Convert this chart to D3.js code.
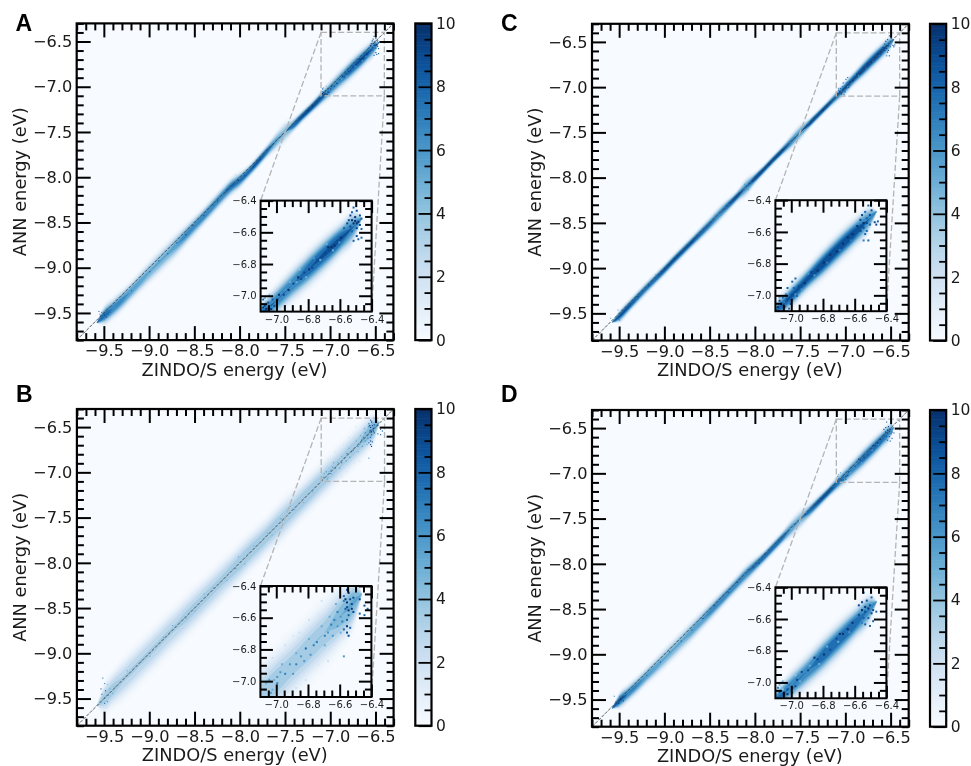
<!DOCTYPE html>
<html><head><meta charset="utf-8">
<script src="https://cdn.jsdelivr.net/npm/d3@7"></script>
<style>html,body{margin:0;padding:0;background:#fff}svg{display:block;filter:blur(0.4px)}text{font-family:"DejaVu Sans",sans-serif;fill:#1a1a1a}</style>
</head><body><svg id="c" width="971" height="766"></svg>
<script>
// band knots along the ZINDO/S energy axis
const energy=[-9.58,-9.5,-9.4,-9.3,-9.2,-9.1,-9.0,-8.9,-8.8,-8.7,-8.6,-8.5,-8.4,-8.3,-8.2,-8.1,-8.0,-7.9,-7.8,-7.7,-7.6,-7.5,-7.4,-7.3,-7.2,-7.1,-7.0,-6.9,-6.8,-6.7,-6.6,-6.5,-6.46];
// ANN minus ZINDO offset of the ridge, spread of the band, peak count
const offsetA=[-.03,-.03,-.05,-.06,-.06,-.055,-.05,-.05,-.05,-.05,-.045,-.04,-.035,-.025,-.015,-.01,-.035,-.04,-.03,-.015,-.005,-.005,-.02,-.02,-.025,-.025,-.03,-.03,-.035,-.04,-.045,-.05,-.05];
const spreadA=[.012,.03,.035,.035,.033,.035,.038,.04,.04,.04,.035,.033,.03,.03,.03,.03,.028,.022,.022,.022,.03,.035,.022,.02,.02,.024,.03,.033,.035,.035,.032,.026,.02];
const peakA=[0,8.5,7.5,7,6.5,6,5.5,5.5,5.5,6,7,7,7.5,7.5,7.5,8,8,8.5,9,8.5,6,5,8.5,9.5,9.8,9,7.5,7.5,8.5,9,9,7,0];
const offsetB=[0,0,.005,0,0,0,0,0,.005,0,0,0,0,0,0,0,0,.005,0,0,0,0,0,0,0,0,0,0,0,0,.005,.01,.01];
const spreadB=[.03,.05,.06,.068,.07,.07,.07,.07,.07,.07,.07,.07,.068,.068,.068,.066,.065,.064,.064,.062,.066,.068,.064,.062,.062,.062,.062,.062,.062,.062,.058,.042,.02];
const peakB=[0,4,4,3.6,3.6,3.6,3.6,3.6,3.6,3.6,3.8,3.8,3.8,3.8,3.8,4,4.2,4.2,4.2,4.2,4.2,4.2,4.2,4.4,4.4,4.2,4.2,4,4.2,4.2,5,5.5,0];
const offsetC=[-.02,-.035,-.03,-.025,-.02,-.02,-.02,-.015,-.015,-.015,-.015,-.015,-.01,-.01,-.01,-.01,-.01,-.01,-.005,-.005,-.005,0,-.005,-.005,-.005,-.005,-.005,0,0,0,-.005,-.01,-.01];
const spreadC=[.01,.02,.022,.022,.022,.02,.02,.02,.02,.02,.022,.024,.026,.022,.019,.03,.019,.016,.016,.017,.024,.027,.017,.016,.016,.021,.024,.024,.028,.029,.028,.022,.012];
const peakC=[0,9,9,8.5,8,8.8,9.2,9.2,9.2,9.2,8.8,8,7.5,8.8,9.5,7,9.5,9.8,9.8,9.5,7.5,6.5,9.5,9.8,9.8,8,9,9.2,9.8,9.8,9.5,7,0];
const offsetD=[-.02,-.015,-.03,-.04,-.04,-.045,-.045,-.045,-.045,-.045,-.04,-.035,-.03,-.025,-.02,-.015,-.02,-.025,-.02,-.015,-.01,-.01,-.02,-.02,-.02,-.02,-.025,-.03,-.03,-.03,-.03,-.03,-.03];
const spreadD=[.012,.026,.03,.03,.03,.032,.035,.035,.035,.035,.033,.032,.03,.028,.028,.03,.026,.022,.022,.022,.03,.033,.024,.022,.02,.024,.03,.033,.035,.035,.032,.026,.02];
const peakD=[0,9,7.5,7,6.5,6,5.5,5.5,5.5,6,6.5,7,7.5,7.5,7.5,7.5,8,8.5,8.5,8.5,6.5,5.5,8,9,9.5,8.5,7.5,7.5,8.5,8.5,8.5,7,0];
// individual histogram cells picked out of the picture: ZINDO/S, ANN, count
const cellsA=[[-6.52,-6.45,8],[-6.5,-6.47,9],[-6.53,-6.48,8],[-6.48,-6.5,9],[-6.51,-6.51,10],[-6.54,-6.5,9],[-6.47,-6.52,8],[-6.53,-6.53,10],[-6.51,-6.535,10],[-6.49,-6.54,10],[-6.55,-6.53,9],[-6.52,-6.55,10],[-6.5,-6.55,10],[-6.48,-6.56,9],[-6.56,-6.55,9],[-6.54,-6.57,9],[-6.5,-6.58,9],[-6.47,-6.585,8],[-6.53,-6.6,8],[-6.58,-6.58,8],[-6.5,-6.63,9],[-6.49,-6.65,8],[-6.47,-6.64,8],[-6.52,-6.66,8],
[-6.6,-6.64,10],[-6.62,-6.66,9],[-6.64,-6.69,10],[-6.66,-6.7,10],[-6.68,-6.7,10],[-6.67,-6.72,9],[-6.7,-6.74,9],[-6.72,-6.76,9],[-6.75,-6.78,9],[-6.78,-6.83,9],[-6.8,-6.84,10],[-6.83,-6.86,9],[-6.85,-6.9,9],[-6.87,-6.89,10],[-6.9,-6.93,9],[-6.93,-6.97,10],[-6.96,-7.0,9],
[-6.61,-6.67,6],[-6.65,-6.72,5],[-6.69,-6.68,5],[-6.73,-6.78,5],[-6.77,-6.77,6],[-6.82,-6.89,5],[-6.88,-6.92,5],[-6.92,-6.92,5],[-6.86,-6.84,4],[-6.95,-6.97,6],[-6.99,-7.05,6],
[-7.08,-7.07,9],[-7.06,-7.05,9],[-7.04,-7.09,10],[-7.09,-7.03,8],[-7.02,-7.07,9],[-7.0,-7.03,9],[-7.03,-7.03,8],[-7.07,-7.09,10],[-6.99,-7.0,10],[-7.09,-7.08,10],[-7.08,-7.02,5],[-7.05,-7.0,4],[-7.07,-7.05,5],[-7.05,-7.07,6],[-7.09,-7.06,6],
[-9.56,-9.49,7],[-9.54,-9.54,8],[-9.52,-9.56,8],[-9.5,-9.53,9],[-9.53,-9.5,7],[-9.48,-9.55,9],[-9.46,-9.52,9],[-9.5,-9.58,6],[-9.44,-9.5,8],[-9.55,-9.52,6],
[-9.2,-9.26,8],[-9,-9.05,8],[-8.8,-8.85,8],[-8.6,-8.64,9],[-8.4,-8.43,9],[-8.15,-8.15,9],[-8.08,-8.09,9],[-8.02,-8.04,10],[-7.98,-8.03,8],[-7.85,-7.89,9],[-7.6,-7.6,6],[-7.55,-7.62,3],[-7.5,-7.43,3],[-7.45,-7.47,7],[-7.25,-7.27,10],[-7.2,-7.22,10],[-7.15,-7.17,9],[-7.05,-7.03,4],[-8.05,-7.98,3],[-8.9,-8.93,8],[-8.7,-8.73,8],[-8.52,-8.54,9],[-8.3,-8.31,9],[-8.25,-8.27,9],[-7.95,-7.99,9],[-7.78,-7.81,9],[-7.7,-7.71,8]];
const cellsB=[[-6.56,-6.43,9],[-6.55,-6.45,10],[-6.58,-6.47,8],[-6.57,-6.49,10],[-6.54,-6.49,9],[-6.52,-6.48,9],[-6.58,-6.5,7],[-6.56,-6.51,10],[-6.53,-6.52,9],[-6.48,-6.49,9],[-6.45,-6.53,9],[-6.56,-6.54,9],[-6.53,-6.55,10],[-6.55,-6.56,10],[-6.52,-6.57,9],[-6.57,-6.55,8],[-6.48,-6.58,8],[-6.43,-6.55,8],[-6.45,-6.59,8],[-6.55,-6.59,8],[-6.56,-6.62,8],[-6.59,-6.63,7],[-6.56,-6.66,10],[-6.54,-6.67,8],[-6.58,-6.68,8],[-6.56,-6.7,9],[-6.55,-6.72,9],[-6.58,-6.85,6],
[-6.62,-6.57,7],[-6.64,-6.62,7],[-6.66,-6.65,7],[-6.62,-6.66,6],[-6.68,-6.7,6],[-6.7,-6.72,7],[-6.65,-6.72,6],[-6.75,-6.76,7],[-6.77,-6.78,7],[-6.82,-6.8,8],[-6.79,-6.84,6],[-6.85,-6.85,6],[-6.88,-6.9,7],[-6.92,-6.9,6],[-6.95,-6.96,7],[-6.98,-6.95,6],[-7.0,-7.02,7],[-7.05,-7.0,6],[-7.08,-7.06,6],[-7.03,-7.06,5],
[-6.6,-6.6,6],[-6.63,-6.52,5],[-6.67,-6.6,5],[-6.6,-6.7,5],[-6.72,-6.66,5],[-6.7,-6.78,5],[-6.8,-6.74,5],[-6.83,-6.88,6],[-6.88,-6.83,5],[-6.9,-6.96,6],[-6.97,-6.9,5],[-7.0,-6.98,6],[-7.02,-7.0,5],[-7.07,-7.02,5],[-7.04,-7.08,6],[-6.86,-6.7,2],[-6.8,-6.62,2],[-6.95,-6.78,2],[-6.9,-6.72,1.5],[-6.68,-6.88,2],[-6.74,-6.9,1.5],[-6.82,-7.0,2],[-6.88,-7.05,2],[-6.74,-6.58,1.5],[-6.72,-6.5,2],[-7.03,-6.86,2],
[-9.52,-9.28,7],[-9.5,-9.34,6],[-9.54,-9.4,8],[-9.49,-9.42,8],[-9.53,-9.46,7],[-9.5,-9.5,7],[-9.46,-9.47,6],[-9.47,-9.54,6],[-9.5,-9.56,7],[-9.44,-9.4,5],[-9.41,-9.45,5],[-9.38,-9.38,5],[-9.47,-9.35,4],
[-9.1,-9.1,5],[-8.85,-8.83,5],[-8.6,-8.62,5],[-8.3,-8.28,5],[-8.05,-8.07,6],[-8.02,-7.94,5],[-7.95,-8.02,5],[-7.7,-7.68,5],[-7.55,-7.52,6],[-7.4,-7.42,5],[-7.2,-7.22,5],[-9.25,-9.2,5],[-9.0,-9.04,5],[-8.75,-8.7,5],[-8.5,-8.54,5],[-8.4,-8.35,5],[-8.15,-8.2,5],[-7.85,-7.82,5],[-7.65,-7.7,5],[-7.45,-7.38,5],[-7.3,-7.34,5],[-7.1,-7.06,5]];
const cellsC=[[-6.52,-6.44,8],[-6.5,-6.47,9],[-6.54,-6.48,8],[-6.51,-6.5,9],[-6.56,-6.5,9],[-6.53,-6.52,8],[-6.48,-6.545,9],[-6.46,-6.54,8],[-6.47,-6.56,9],[-6.55,-6.55,10],[-6.53,-6.55,9],[-6.57,-6.53,9],[-6.51,-6.56,8],[-6.55,-6.58,9],[-6.59,-6.57,10],[-6.57,-6.6,9],[-6.54,-6.62,8],[-6.52,-6.66,8],[-6.55,-6.66,7],[-6.53,-6.6,8],
[-6.62,-6.62,10],[-6.65,-6.64,10],[-6.68,-6.68,10],[-6.72,-6.73,10],[-6.76,-6.75,10],[-6.8,-6.8,10],[-6.84,-6.85,10],[-6.88,-6.86,9],[-6.92,-6.93,10],[-6.96,-6.95,9],[-6.99,-6.96,8],[-7.0,-6.92,8],[-7.03,-6.96,8],[-6.98,-6.9,8],
[-6.63,-6.66,7],[-6.7,-6.72,7],[-6.78,-6.8,7],[-6.86,-6.88,6],[-6.94,-6.97,6],[-6.98,-7.0,6],[-6.9,-6.87,6],
[-7.09,-7.08,10],[-7.07,-7.06,10],[-7.05,-7.08,10],[-7.08,-7.04,9],[-7.03,-7.03,9],[-7.01,-7.06,9],[-7.06,-7.02,8],[-7.0,-7.0,9],[-7.04,-7.0,7],[-6.97,-7.01,8],[-7.08,-7.02,6],[-7.05,-7.05,7],[-7.02,-7.09,8],
[-9.6,-9.56,5],[-9.52,-9.47,5],[-9.5,-9.58,7],[-9.48,-9.52,9],[-9.3,-9.32,9],[-9.1,-9.08,6],[-8.55,-8.58,7],[-8.45,-8.42,5],[-8.38,-8.42,6],[-8.32,-8.34,7],[-8.12,-8.08,6],[-8.08,-8.14,6],[-8.05,-8.06,7],[-8.1,-8.1,8],[-7.55,-7.52,5],[-7.5,-7.45,4],[-7.47,-7.5,6],[-7.52,-7.57,4],[-7.42,-7.4,5],[-9.18,-9.2,9],[-8.7,-8.72,9],[-8.9,-8.91,9],[-7.85,-7.86,10],[-7.7,-7.7,10],[-7.25,-7.26,10]];
const cellsD=[[-6.55,-6.44,8],[-6.5,-6.47,8],[-6.53,-6.49,9],[-6.56,-6.5,9],[-6.51,-6.52,9],[-6.58,-6.52,9],[-6.54,-6.53,10],[-6.52,-6.54,10],[-6.49,-6.55,9],[-6.56,-6.55,10],[-6.54,-6.56,9],[-6.5,-6.57,9],[-6.47,-6.56,8],[-6.58,-6.58,9],[-6.52,-6.6,8],[-6.55,-6.6,8],[-6.49,-6.62,8],[-6.54,-6.64,8],[-6.51,-6.65,8],[-6.56,-6.63,7],
[-6.62,-6.63,10],[-6.65,-6.67,10],[-6.68,-6.7,10],[-6.7,-6.7,10],[-6.72,-6.73,9],[-6.76,-6.8,9],[-6.8,-6.83,10],[-6.84,-6.86,9],[-6.86,-6.85,10],[-6.9,-6.93,9],[-6.94,-6.94,9],[-6.97,-6.99,9],
[-6.64,-6.69,6],[-6.71,-6.75,5],[-6.78,-6.78,5],[-6.83,-6.89,5],[-6.89,-6.9,5],[-6.95,-7.0,5],[-6.98,-6.96,4],
[-7.08,-7.07,8],[-7.05,-7.08,9],[-7.03,-7.05,9],[-7.09,-7.04,7],[-7.0,-7.04,10],[-6.98,-7.03,9],[-7.02,-7.02,7],[-7.06,-7.0,5],[-7.0,-7.07,9],[-7.03,-7.08,10],[-7.08,-7.02,5],[-7.06,-7.05,4],
[-9.56,-9.47,6],[-9.54,-9.53,7],[-9.51,-9.55,9],[-9.49,-9.5,10],[-9.46,-9.52,9],[-9.5,-9.47,7],[-9.44,-9.48,8],[-9.52,-9.58,6],[-9.2,-9.24,8],[-8.95,-8.98,8],[-8.7,-8.74,8],[-8.45,-8.47,9],[-8.2,-8.21,9],[-8.08,-8.07,8],[-8.02,-8.05,9],[-7.96,-8.0,9],[-7.9,-7.9,9],[-7.55,-7.53,5],[-7.5,-7.55,3],[-7.5,-7.46,3],[-7.25,-7.27,9],[-7.15,-7.17,9],[-9.05,-9.09,8],[-8.82,-8.86,8],[-8.58,-8.61,9],[-8.3,-8.32,9]];
// density levels drawn as nested bands
const levels=[0.12,0.3,0.55,0.9,1.4,2,2.7,3.5,4.4,5.4,6.5,7.6,8.8];
// axis ticks
const mainTicks=[-9.5,-9,-8.5,-8,-7.5,-7,-6.5];
const insetTicks=[-7,-6.8,-6.6,-6.4];
const barTicks=[0,2,4,6,8,10];
const barMinor=[0.5,1,1.5,2.5,3,3.5,4.5,5,5.5,6.5,7,7.5,8.5,9,9.5];
const axisDomain=[-9.8,-6.3];
const insetDomain=[-7.1,-6.4];
const panelNames=["A","B","C","D"];
const axisTitleX="ZINDO/S energy (eV)", axisTitleY="ANN energy (eV)";

const layout={
 A:{l:76.7,t:23.4,il:260.6,it:200.6,cb:415.3,lx:15.5,ly:31},
 B:{l:76.9,t:409,il:260.4,it:586,cb:415.3,lx:16,ly:402},
 C:{l:592,t:23.8,il:775.4,it:200.2,cb:930,lx:501,ly:31},
 D:{l:592,t:410,il:775.4,it:587.3,cb:930,lx:501,ly:402}
};
const bands={A:[offsetA,spreadA,peakA,cellsA],B:[offsetB,spreadB,peakB,cellsB],C:[offsetC,spreadC,peakC,cellsC],D:[offsetD,spreadD,peakD,cellsD]};
const W=316.7, IW=111, CBW=16.2, BIN=0.0125;
const color=d3.scaleSequential(d3.interpolateBlues).domain([0,10]);
const svg=d3.select("#c");
const fmt=d3.format(".1f");
let cid=0;

function drawDensity(g,x,y,off,spr,pk,cells){
  const id="clip"+(cid++);
  const [x0,x1]=x.range(),[y1,y0]=y.range();
  g.append("clipPath").attr("id",id).append("rect").attr("x",x0).attr("y",y0).attr("width",x1-x0).attr("height",y1-y0);
  const c=g.append("g").attr("clip-path",`url(#${id})`);
  c.append("rect").attr("x",x0).attr("y",y0).attr("width",x1-x0).attr("height",y1-y0).attr("fill",color(0));
  const half=(L,i)=>pk[i]>L?spr[i]*2.4*Math.pow(Math.log(pk[i]/L),0.42):0;
  levels.forEach(L=>{
    const area=d3.area().curve(d3.curveMonotoneX)
      .x((e)=>x(e))
      .y0((e,i)=>y(e+off[i]-half(L,i)))
      .y1((e,i)=>y(e+off[i]+half(L,i)));
    c.append("path").attr("d",area(energy)).attr("fill",color(L));
  });
  c.selectAll("rect.cell").data(cells).join("rect").attr("class","cell")
    .attr("x",d=>x(d[0])).attr("y",d=>y(d[1]+BIN))
    .attr("width",x(BIN)-x(0)).attr("height",y(0)-y(BIN))
    .attr("fill",d=>color(d[2]));
  return c;
}
function drawAxes(g,x,y,major,minor,h,w,sizeMajor,sizeMinor,fs,pad,sw){
  const style=s=>{s.select(".domain").remove();s.selectAll("line").attr("stroke","#000").attr("stroke-width",sw);s.selectAll("text").attr("font-size",fs).attr("fill","#1a1a1a").attr("font-family",'"DejaVu Sans"');};
  const xl=x.range()[0],xr=x.range()[1];
  g.append("g").attr("transform",`translate(0,${h})`).call(d3.axisBottom(x).tickValues(minor).tickSize(-sizeMinor).tickFormat("")).call(style);
  g.append("g").attr("transform",`translate(0,${h-w})`).call(d3.axisTop(x).tickValues(minor).tickSize(-sizeMinor).tickFormat("")).call(style);
  g.append("g").attr("transform",`translate(${xl},0)`).call(d3.axisLeft(y).tickValues(minor).tickSize(-sizeMinor).tickFormat("")).call(style);
  g.append("g").attr("transform",`translate(${xr},0)`).call(d3.axisRight(y).tickValues(minor).tickSize(-sizeMinor).tickFormat("")).call(style);
  g.append("g").attr("transform",`translate(0,${h})`).call(d3.axisBottom(x).tickValues(major).tickSize(-sizeMajor).tickPadding(pad).tickFormat(fmt)).call(style);
  g.append("g").attr("transform",`translate(0,${h-w})`).call(d3.axisTop(x).tickValues(major).tickSize(-sizeMajor).tickFormat("")).call(style);
  g.append("g").attr("transform",`translate(${xl},0)`).call(d3.axisLeft(y).tickValues(major).tickSize(-sizeMajor).tickPadding(pad).tickFormat(fmt)).call(style);
  g.append("g").attr("transform",`translate(${xr},0)`).call(d3.axisRight(y).tickValues(major).tickSize(-sizeMajor).tickFormat("")).call(style);
}
panelNames.forEach(name=>{
  const L=layout[name],[off,spr,pk,cells]=bands[name];
  const g=svg.append("g");
  const x=d3.scaleLinear().domain(axisDomain).range([L.l,L.l+W]);
  const y=d3.scaleLinear().domain(axisDomain).range([L.t+W,L.t]);
  drawDensity(g,x,y,off,spr,pk,cells);
  g.append("line").attr("x1",x(axisDomain[0])).attr("y1",y(axisDomain[0])).attr("x2",x(axisDomain[1])).attr("y2",y(axisDomain[1]))
    .attr("stroke","#444").attr("stroke-width",0.9).attr("stroke-dasharray","3.2 1.4");
  const dash=s=>s.attr("fill","none").attr("stroke","#b4b4b4").attr("stroke-width",1.3).attr("stroke-dasharray","6 2.6");
  g.append("rect").attr("x",x(insetDomain[0])).attr("y",y(insetDomain[1])).attr("width",x(insetDomain[1])-x(insetDomain[0])).attr("height",y(insetDomain[0])-y(insetDomain[1])).call(dash);
  g.append("line").attr("x1",x(insetDomain[0])).attr("y1",y(insetDomain[1])).attr("x2",L.il).attr("y2",L.it).call(dash);
  g.append("line").attr("x1",x(insetDomain[1])).attr("y1",y(insetDomain[0])).attr("x2",L.il+IW).attr("y2",L.it+IW).call(dash);
  const minorMain=x.ticks(35).filter(v=>!mainTicks.some(m=>Math.abs(m-v)<1e-6));
  drawAxes(g,x,y,mainTicks,minorMain,L.t+W,W,14,7,16.2,4.5,2);
  g.append("rect").attr("x",L.l).attr("y",L.t).attr("width",W).attr("height",W).attr("fill","none").attr("stroke","#000").attr("stroke-width",2.2);
  g.append("text").attr("x",L.l+W/2-0.5).attr("y",L.t+W+35.5).attr("text-anchor","middle").attr("font-size",17.8).text(axisTitleX);
  g.append("text").attr("transform",`translate(${L.l-51},${L.t+W/2}) rotate(-90)`).attr("text-anchor","middle").attr("font-size",17.8).text(axisTitleY);
  const ig=g.append("g");
  const ix=d3.scaleLinear().domain(insetDomain).range([L.il,L.il+IW]);
  const iy=d3.scaleLinear().domain(insetDomain).range([L.it+IW,L.it]);
  drawDensity(ig,ix,iy,off,spr,pk,cells);
  const minorIn=d3.range(-7.05,-6.4,0.05).filter(v=>!insetTicks.some(m=>Math.abs(m-v)<1e-6));
  drawAxes(ig,ix,iy,insetTicks,minorIn,L.it+IW,IW,12.5,6.5,10,4,2);
  ig.append("rect").attr("x",L.il).attr("y",L.it).attr("width",IW).attr("height",IW).attr("fill","none").attr("stroke","#000").attr("stroke-width",2);
  const cy=d3.scaleLinear().domain([0,10]).range([L.t+W,L.t]);
  const cg=g.append("g");
  cg.selectAll("rect").data(d3.range(0,10,0.05)).join("rect").attr("x",L.cb).attr("width",CBW)
    .attr("y",d=>cy(d+0.05)-0.3).attr("height",d=>cy(d)-cy(d+0.05)+0.6).attr("fill",d=>color(d+0.025));
  const ax=cg.append("g").attr("transform",`translate(${L.cb+CBW},0)`);
  ax.append("g").call(d3.axisRight(cy).tickValues(barMinor).tickSize(-7).tickFormat("")).call(s=>{s.select(".domain").remove();s.selectAll("line").attr("stroke","#000").attr("stroke-width",1.8)});
  ax.append("g").call(d3.axisRight(cy).tickValues(barTicks).tickSize(-13).tickPadding(4.5).tickFormat(d3.format("d"))).call(s=>{s.select(".domain").remove();s.selectAll("line").attr("stroke","#000").attr("stroke-width",1.8);s.selectAll("text").attr("font-size",15.5).attr("fill","#1a1a1a").attr("font-family",'"DejaVu Sans"')});
  cg.append("rect").attr("x",L.cb).attr("y",L.t).attr("width",CBW).attr("height",W).attr("fill","none").attr("stroke","#000").attr("stroke-width",2.2);
  g.append("text").attr("x",L.lx).attr("y",L.ly).attr("font-size",23).attr("font-weight",700).style("font-family",'"Liberation Sans",sans-serif').style("fill","#000").text(name);
});
</script></body></html>
